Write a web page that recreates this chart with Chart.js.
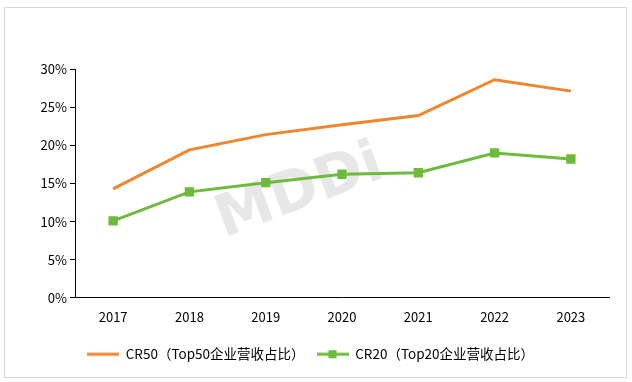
<!DOCTYPE html>
<html><head><meta charset="utf-8">
<script src="https://cdn.jsdelivr.net/npm/chart.js@4/dist/chart.umd.min.js"></script>
<style>html,body{margin:0;padding:0;background:#fff;}#wrap{width:632px;height:382px;position:relative;}</style>
</head><body><div id="wrap"><canvas id="c" width="632" height="382"></canvas></div>
<script>
const categories = ['2017','2018','2019','2020','2021','2022','2023'];
const cr50 = [14.3, 19.4, 21.4, 22.7, 23.9, 28.6, 27.1];
const cr20 = [10.1, 13.9, 15.1, 16.2, 16.4, 19.0, 18.2];
const seriesNames = ['CR50（Top50企业营收占比）', 'CR20（Top20企业营收占比）'];
const yTicks = [0, 5, 10, 15, 20, 25, 30];

const ORANGE = '#F0852D', GREEN = '#6EBA3D';
const FONT = '"Noto Sans CJK SC", "Open Sans", sans-serif';

function legendIcon(color, square){
  const cv = document.createElement('canvas');
  cv.width = 32; cv.height = 10;
  const g = cv.getContext('2d');
  g.strokeStyle = color; g.lineWidth = 3;
  g.beginPath(); g.moveTo(0,5); g.lineTo(32,5); g.stroke();
  if (square){ g.fillStyle = color; g.fillRect(12,1,8,8); }
  return cv;
}

const frame = {
  id:'frame',
  beforeDraw(chart){
    const ctx = chart.ctx;
    ctx.save();
    ctx.strokeStyle = '#d9d9d9'; ctx.lineWidth = 1;
    ctx.strokeRect(4.5, 7.5, 622, 370);
    ctx.restore();
  },
  beforeDatasetsDraw(chart){
    const ctx = chart.ctx;
    ctx.save();
    ctx.translate(300, 193);
    ctx.rotate(-0.36);
    ctx.fillStyle = 'rgba(215,215,215,0.6)';
    ctx.font = 'bold 58px "DejaVu Sans", sans-serif';
    ctx.textAlign = 'center'; ctx.textBaseline = 'middle';
    ctx.fillText('MDDi', 0, 0);
    ctx.restore();
  }
};

new Chart(document.getElementById('c'), {
  type:'line',
  data:{
    labels: categories,
    datasets:[
      {label: seriesNames[0], data: cr50, borderColor: ORANGE, backgroundColor: ORANGE, borderWidth:3, pointRadius:0, tension:0},
      {label: seriesNames[1], data: cr20, borderColor: GREEN, backgroundColor: GREEN, borderWidth:3, pointRadius:4.5, pointStyle:'rect', tension:0}
    ]
  },
  options:{
    responsive:false, animation:false,
    layout:{padding:{top:69, left:12, right:23, bottom:11}},
    plugins:{
      tooltip:{enabled:false},
      legend:{
        position:'bottom',
        labels:{
          usePointStyle:true, pointStyleWidth:32, boxHeight:10,
          color:'#000', font:{family:FONT, size:13.5}, padding:12,
          generateLabels(chart){
            return chart.data.datasets.map((d,i)=>({
              text:d.label, fillStyle:d.borderColor, strokeStyle:d.borderColor, lineWidth:0,
              pointStyle: legendIcon(d.borderColor, i===1), datasetIndex:i, hidden:false
            }));
          }
        }
      }
    },
    scales:{
      x:{
        offset:true,
        grid:{display:false, drawTicks:false},
        border:{display:true, color:'#000', width:1},
        ticks:{color:'#000', font:{family:FONT, size:13}, padding:11}
      },
      y:{
        min:0, max:30,
        afterFit(s){ s.width = 63; },
        afterBuildTicks(s){ s.ticks = yTicks.map(v=>({value:v})); },
        grid:{display:true, drawOnChartArea:false, drawTicks:true, tickLength:5, color:'#000'},
        border:{display:true, color:'#000', width:1},
        ticks:{color:'#000', font:{family:FONT, size:13}, padding:3, callback:v=>v+'%'}
      }
    }
  },
  plugins:[frame]
});
</script></body></html>
